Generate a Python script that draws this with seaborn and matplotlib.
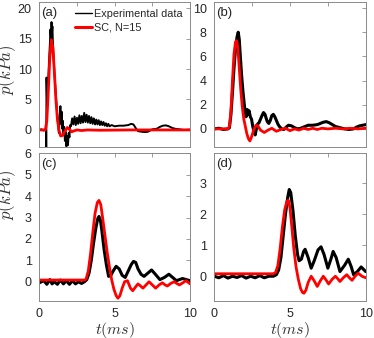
import numpy as np
import pandas as pd
import seaborn as sns
import matplotlib.pyplot as plt
from matplotlib.ticker import MultipleLocator

# ---- panel (a) ----
t_exp_a = [0.0, 0.15, 0.3, 0.4, 0.45, 0.46, 0.48, 0.52, 0.58, 0.64, 0.7, 0.74, 0.78, 0.81, 0.84,
           0.87, 0.9, 0.95, 1.0, 1.08, 1.16, 1.24, 1.3, 1.35, 1.4, 1.44, 1.48, 1.52, 1.56, 1.6,
           1.65, 1.7, 1.75, 1.8, 1.85, 1.9, 1.95, 2.0, 2.05,
           2.10, 2.18, 2.26, 2.34, 2.42, 2.50, 2.58, 2.66, 2.74, 2.82, 2.90, 2.98, 3.06, 3.14,
           3.22, 3.30, 3.38, 3.46, 3.54, 3.62, 3.70, 3.78, 3.86, 3.94, 4.02, 4.10, 4.18, 4.26,
           4.34, 4.42, 4.50, 4.58, 4.66,
           4.8, 5.0, 5.3, 5.6, 5.9, 6.1, 6.25, 6.4, 6.55, 6.8, 7.0, 7.2, 7.35, 7.5, 7.8, 8.0,
           8.2, 8.4, 8.6, 8.8, 9.0, 9.3, 9.6, 10.0]
p_exp_a = [0.0, 0.1, -0.1, 0.1, 0.0, -3.6, 8.6, 4.0, 7.5, 11.0, 14.0, 16.5, 15.0, 17.7, 16.0,
           17.0, 14.5, 12.0, 9.5, 6.5, 3.5, 1.0, -0.5, 2.0, 3.9, 1.0, 3.0, 0.2, 1.5, -0.8,
           0.5, -1.8, -0.3, -2.7, -1.0, -2.5, -0.5, -1.2, 0.8,
           0.6, 1.9, 0.9, 2.2, 0.8, 2.0, 1.0, 2.4, 1.1, 2.3, 1.2, 2.8, 1.3, 2.5,
           1.2, 2.3, 1.1, 2.1, 1.0, 1.9, 0.9, 1.7, 0.9, 1.6, 0.8, 1.4, 0.8, 1.3,
           0.7, 1.1, 0.6, 1.0, 0.6,
           0.8, 0.6, 0.7, 0.7, 0.8, 1.0, 0.9, 0.3, -0.2, -0.3, -0.35, -0.3, -0.1, 0.1, 0.2, 0.5,
           0.7, 0.75, 0.6, 0.35, 0.2, 0.1, 0.0, 0.05]
t_sc_a = [0.0, 0.4, 0.5, 0.6, 0.7, 0.8, 0.9, 1.0, 1.1, 1.2, 1.3, 1.42, 1.55, 1.7, 1.86, 2.0,
          2.15, 2.3, 2.5, 2.8, 3.2, 4.0, 6.0, 8.0, 10.0]
p_sc_a = [0.0, 0.0, 1.5, 6.5, 12.0, 14.8, 13.5, 9.5, 5.0, 1.8, 0.0, -1.0, -0.9, -0.2, 0.4, 0.1,
          -0.3, -0.15, 0.0, -0.1, 0.0, -0.05, 0.0, 0.0, 0.0]

# ---- panel (b) ----
t_exp_b = [0.0, 0.3, 0.6, 0.9, 1.0, 1.1, 1.2, 1.3, 1.4, 1.5, 1.58, 1.65, 1.72, 1.8, 1.9, 2.0,
           2.1, 2.18, 2.24, 2.3, 2.38, 2.46, 2.54, 2.62, 2.7, 2.78, 2.86, 2.95, 3.05, 3.15,
           3.25, 3.35, 3.42, 3.5, 3.6, 3.7, 3.8, 3.9, 4.0, 4.1, 4.2, 4.3, 4.45, 4.6, 4.75,
           4.9, 5.1, 5.3, 5.5, 5.7, 5.9, 6.2, 6.5, 6.8, 7.0, 7.2, 7.4, 7.6, 7.8, 8.0, 8.3,
           8.6, 8.9, 9.2, 9.4, 9.6, 9.8, 10.0]
p_exp_b = [0.0, 0.05, -0.05, 0.0, 0.1, 1.2, 3.0, 5.0, 6.6, 7.6, 8.0, 7.4, 6.0, 4.5, 3.0, 1.8,
           1.0, 1.6, 1.2, 1.5, 1.0, 0.8, 0.2, -0.2, -0.5, 0.0, 0.4, 0.5, 0.8, 1.1,
           1.35, 1.2, 0.9, 0.6, 0.45, 0.7, 1.1, 1.2, 1.0, 0.7, 0.4, 0.2, 0.0, -0.05, 0.15,
           0.3, 0.25, 0.1, 0.0, 0.05, 0.15, 0.3, 0.3, 0.35, 0.45, 0.55, 0.6, 0.5, 0.35, 0.2, 0.1,
           0.0, -0.05, 0.0, 0.15, 0.25, 0.3, 0.35]
t_sc_b = [0.0, 0.9, 1.0, 1.1, 1.2, 1.3, 1.4, 1.48, 1.56, 1.65, 1.75, 1.85, 1.95, 2.05, 2.15,
          2.25, 2.35, 2.45, 2.6, 2.75, 2.88, 3.05, 3.3, 3.55, 3.8, 4.1, 4.4, 4.7, 5.0, 5.3,
          5.6, 5.9, 6.2, 6.5, 6.8, 7.1, 7.5, 8.0, 8.5, 9.0, 9.5, 10.0]
p_sc_b = [0.0, 0.0, 0.2, 1.5, 4.0, 6.2, 7.2, 7.3, 6.6, 5.0, 3.2, 1.8, 0.8, 0.2, -0.4,
          -0.8, -1.0, -0.7, -0.1, 0.3, 0.25, -0.1, -0.3, -0.1, 0.05, -0.2, -0.05, 0.05, -0.15, 0.0,
          -0.1, 0.05, -0.05, 0.05, -0.05, 0.05, 0.0, 0.05, 0.0, 0.05, 0.0, 0.05]

# ---- panel (c) ----
t_exp_c = [0.0, 0.3, 0.5, 0.7, 0.85, 1.0, 1.2, 1.4, 1.6, 1.8, 2.0, 2.2, 2.4, 2.6, 2.8, 3.0,
           3.15, 3.3, 3.45, 3.6, 3.75, 3.88, 3.96, 4.05, 4.15, 4.3, 4.45, 4.6, 4.75, 4.9, 5.1,
           5.3, 5.5, 5.7, 5.9, 6.1, 6.25, 6.4, 6.55, 6.75, 6.95, 7.2, 7.45, 7.7, 8.0, 8.3, 8.6,
           8.85, 9.1, 9.3, 9.5, 9.75, 10.0]
p_exp_c = [-0.05, 0.05, -0.12, 0.1, -0.1, 0.0, -0.12, 0.08, -0.1, 0.05, -0.12, 0.05, -0.1, 0.0,
           -0.08, 0.0, 0.1, 0.4, 1.0, 1.8, 2.5, 2.95, 3.05, 2.9, 2.4, 1.5, 0.8, 0.25, 0.3, 0.5,
           0.72, 0.6, 0.3, 0.2, 0.5, 0.8, 0.95, 0.9, 0.6, 0.35, 0.25, 0.4, 0.55, 0.35, 0.1, 0.2,
           0.35, 0.2, 0.05, 0.1, 0.15, 0.1, 0.05]
t_sc_c = [0.0, 3.0, 3.1, 3.25, 3.4, 3.55, 3.7, 3.85, 3.96, 4.08, 4.2, 4.35, 4.5, 4.65, 4.8,
          4.95, 5.1, 5.22, 5.35, 5.5, 5.66, 5.85, 6.05, 6.2, 6.38, 6.55, 6.72, 6.88, 7.08,
          7.28, 7.5, 7.72, 7.95, 8.16, 8.35, 8.5, 8.72, 8.95, 9.12, 9.3, 9.52, 9.74, 10.0]
p_sc_c = [0.08, 0.08, 0.12, 0.5, 1.3, 2.3, 3.2, 3.7, 3.8, 3.6, 3.0, 2.2, 1.4, 0.7, 0.1,
          -0.35, -0.65, -0.77, -0.65, -0.3, 0.0, 0.05, -0.3, -0.42, -0.25, -0.1, -0.2, -0.3,
          -0.15, 0.0, -0.15, -0.3, -0.15, -0.05, -0.15, -0.2, -0.08, 0.0, -0.08, -0.15, -0.05,
          0.05, -0.1]

# ---- panel (d) ----
t_exp_d = [0.0, 0.3, 0.6, 0.9, 1.2, 1.5, 1.8, 2.1, 2.4, 2.7, 3.0, 3.3, 3.6, 3.9, 4.1, 4.25,
           4.4, 4.55, 4.7, 4.85, 4.95, 5.05, 5.2, 5.35, 5.5, 5.6, 5.75, 5.9, 6.0, 6.2, 6.4,
           6.6, 6.85, 7.05, 7.25, 7.5, 7.7, 7.85, 8.05, 8.3, 8.6, 8.85, 9.05, 9.2, 9.45, 9.7,
           10.0]
p_exp_d = [0.0, -0.05, 0.02, -0.06, 0.0, -0.04, 0.02, -0.06, 0.0, -0.05, 0.02, -0.05, 0.0,
           0.0, 0.05, 0.2, 0.6, 1.3, 2.0, 2.55, 2.8, 2.7, 2.1, 1.3, 0.7, 0.5, 0.55, 0.8, 0.87,
           0.6, 0.26, 0.5, 0.85, 0.95, 0.7, 0.26, 0.55, 0.8, 0.6, 0.15, 0.35, 0.55, 0.3, 0.05,
           0.15, 0.3, 0.15]
t_sc_d = [0.0, 3.9, 4.05, 4.2, 4.35, 4.5, 4.65, 4.8, 4.9, 5.0, 5.12, 5.25, 5.4, 5.55, 5.7,
          5.82, 5.92, 6.05, 6.2, 6.4, 6.6, 6.8, 7.0, 7.2, 7.38, 7.55, 7.78, 8.0, 8.15, 8.3,
          8.52, 8.75, 8.92, 9.1, 9.3, 9.5, 9.75, 10.0]
p_sc_d = [0.08, 0.08, 0.12, 0.35, 0.9, 1.6, 2.15, 2.43, 2.45, 2.2, 1.6, 0.9, 0.3, -0.1, -0.4,
          -0.52, -0.55, -0.45, -0.2, 0.0, -0.15, -0.33, -0.15, 0.0, -0.12, -0.25, -0.1, 0.0,
          -0.08, -0.17, -0.05, 0.05, -0.05, -0.13, 0.0, 0.1, 0.0, -0.05]

panel_labels = ["(a)", "(b)", "(c)", "(d)"]
ylims = [(-2.8, 21), (-1.5, 10.5), (-0.9, 6), (-0.8, 3.97)]
ysteps = [5, 2, 1, 1]

sns.set_style("white")
plt.rcParams['font.family'] = ['Liberation Sans', 'DejaVu Sans']
plt.rcParams['mathtext.fontset'] = 'cm'

W, H = 374, 338
fig = plt.figure(figsize=(W / 100, H / 100), dpi=100)
boxes = [(39.3, 2, 190, 147), (214.3, 2, 365.7, 147),
         (39.3, 153.3, 190, 301), (214.3, 153.3, 365.7, 301)]
axes = []
for (x0, y0, x1, y1) in boxes:
    axes.append(fig.add_axes([x0 / W, 1 - y1 / H, (x1 - x0) / W, (y1 - y0) / H]))

data = [(t_exp_a, p_exp_a, t_sc_a, p_sc_a), (t_exp_b, p_exp_b, t_sc_b, p_sc_b),
        (t_exp_c, p_exp_c, t_sc_c, p_sc_c), (t_exp_d, p_exp_d, t_sc_d, p_sc_d)]

gray = '#8a8a8a'
ylabel_y = {0: 0.53, 2: 0.72}
for i, ax in enumerate(axes):
    te, pe, ts, ps = data[i]
    lw_exp = 1.4 if i == 0 else 2.2
    sns.lineplot(x=te, y=pe, ax=ax, color='black', lw=lw_exp, estimator=None, sort=False,
                 label='Experimental data' if i == 0 else None)
    sns.lineplot(x=ts, y=ps, ax=ax, color='#ff0000', lw=2.0, estimator=None, sort=False,
                 label='SC, N=15' if i == 0 else None)
    ax.set_xlim(0, 10)
    ax.set_ylim(*ylims[i])
    ax.xaxis.set_major_locator(MultipleLocator(5))
    ax.xaxis.set_minor_locator(MultipleLocator(2.5))
    ax.yaxis.set_major_locator(MultipleLocator(ysteps[i]))
    ax.tick_params(which='both', direction='in', top=True, right=True, length=3,
                   width=0.6, color=gray, labelsize=9)
    ax.tick_params(axis='y', pad=5.5)
    ax.tick_params(axis='x', pad=5)
    for s in ax.spines.values():
        s.set_color(gray)
        s.set_linewidth(0.7)
    if i < 2:
        ax.set_xticklabels([])
    else:
        ax.set_xlabel('$t(ms)$', fontsize=11.5, color='#333333', labelpad=0)
    if i % 2 == 0:
        ax.set_ylabel('$p(kPa)$', fontsize=12, color='#333333')
        ax.yaxis.set_label_coords(-0.14, ylabel_y[i])
    ax.text(0.015, 0.968, panel_labels[i], transform=ax.transAxes, ha='left', va='top',
            fontsize=9.5)

leg = axes[0].legend(loc='upper right', bbox_to_anchor=(1.0, 1.0), frameon=False,
                     fontsize=7.8, handlelength=1.6, handletextpad=0.2, labelspacing=0.3,
                     borderaxespad=0.25)
leg.get_lines()[0].set_linewidth(1.0)
leg.get_lines()[1].set_linewidth(2.2)

fig.savefig('out.png', dpi=100)
